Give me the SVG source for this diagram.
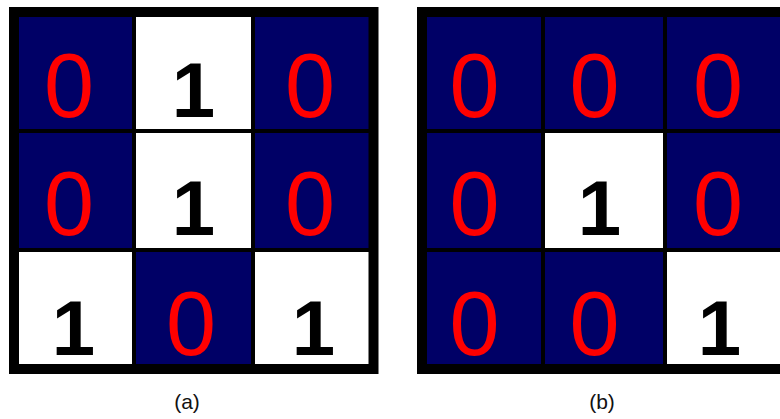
<svg xmlns="http://www.w3.org/2000/svg" width="780" height="419" viewBox="0 0 780 419">
<style>
.n{fill:#000066}
.w{fill:#ffffff}
.frame{fill:none;stroke:#000;stroke-width:10}
.div{stroke:#000;stroke-width:4}
.z{font-family:"Liberation Sans",Arial,sans-serif;font-size:90px;fill:#ff0000;text-anchor:middle}
.o{font-family:"Liberation Sans",Arial,sans-serif;font-size:78px;font-weight:bold;fill:#000;text-anchor:middle}
.lab{font-family:"Liberation Sans",Arial,sans-serif;font-size:21px;fill:#111;text-anchor:middle}
</style>
<rect width="780" height="419" fill="#fff"/>
<g id="gridA">
  <g id="a00"><rect class="n" x="14" y="12" width="120" height="119"/><text class="z" x="69" y="117">0</text></g>
  <g id="a01"><rect class="w" x="134" y="12" width="119" height="119"/><text class="o" x="193.5" y="117">1</text></g>
  <g id="a02"><rect class="n" x="253" y="12" width="121" height="119"/><text class="z" x="310" y="117">0</text></g>
  <g id="a10"><rect class="n" x="14" y="131" width="120" height="119"/><text class="z" x="69" y="235">0</text></g>
  <g id="a11"><rect class="w" x="134" y="131" width="119" height="119"/><text class="o" x="193.5" y="235">1</text></g>
  <g id="a12"><rect class="n" x="253" y="131" width="121" height="119"/><text class="z" x="310" y="235">0</text></g>
  <g id="a20"><rect class="w" x="14" y="250" width="120" height="119"/><text class="o" x="73.5" y="355">1</text></g>
  <g id="a21"><rect class="n" x="134" y="250" width="119" height="119"/><text class="z" x="191" y="355">0</text></g>
  <g id="a22"><rect class="w" x="253" y="250" width="121" height="119"/><text class="o" x="313.5" y="355">1</text></g>
  <g id="a-lines">
    <line class="div" x1="134" y1="12" x2="134" y2="369"/>
    <line class="div" x1="253" y1="12" x2="253" y2="369"/>
    <line class="div" x1="14" y1="131" x2="374" y2="131"/>
    <line class="div" x1="14" y1="250" x2="374" y2="250"/>
    <rect class="frame" x="14" y="12" width="359.5" height="357"/>
  </g>
  <text class="lab" x="187" y="409">(a)</text>
</g>
<g id="gridB">
  <g id="b00"><rect class="n" x="422" y="12" width="121" height="119"/><text class="z" x="474.5" y="117">0</text></g>
  <g id="b01"><rect class="n" x="543" y="12" width="122" height="119"/><text class="z" x="594.5" y="117">0</text></g>
  <g id="b02"><rect class="n" x="665" y="12" width="130" height="119"/><text class="z" x="718" y="117">0</text></g>
  <g id="b10"><rect class="n" x="422" y="131" width="121" height="119"/><text class="z" x="474.5" y="235">0</text></g>
  <g id="b11"><rect class="w" x="543" y="131" width="122" height="119"/><text class="o" x="599.5" y="235">1</text></g>
  <g id="b12"><rect class="n" x="665" y="131" width="130" height="119"/><text class="z" x="718" y="235">0</text></g>
  <g id="b20"><rect class="n" x="422" y="250" width="121" height="119"/><text class="z" x="474.5" y="355">0</text></g>
  <g id="b21"><rect class="n" x="543" y="250" width="122" height="119"/><text class="z" x="594.5" y="355">0</text></g>
  <g id="b22"><rect class="w" x="665" y="250" width="130" height="119"/><text class="o" x="719.5" y="355">1</text></g>
  <g id="b-lines">
    <line class="div" x1="543" y1="12" x2="543" y2="369"/>
    <line class="div" x1="665" y1="12" x2="665" y2="369"/>
    <line class="div" x1="422" y1="131" x2="800" y2="131"/>
    <line class="div" x1="422" y1="250" x2="800" y2="250"/>
    <rect class="frame" x="422" y="12" width="380" height="357"/>
  </g>
  <text class="lab" x="602" y="409">(b)</text>
</g>
</svg>
